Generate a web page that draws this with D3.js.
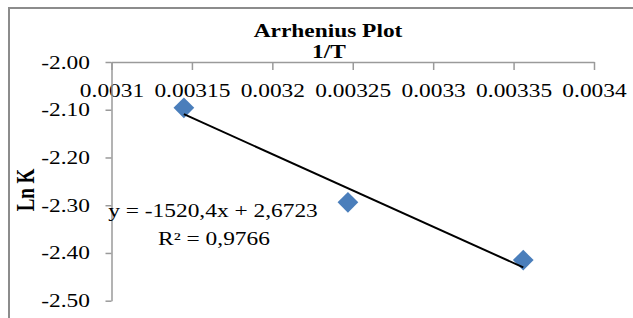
<!DOCTYPE html>
<html>
<head>
<meta charset="utf-8">
<script src="https://cdn.jsdelivr.net/npm/d3@7"></script>
<style>
  body { margin: 0; background: #fff; }
  svg { display: block; font-family: "Liberation Serif", "Times New Roman", serif; }
  .axis path, .axis line { stroke: #9a9a9a; stroke-width: 1.5; }
  .axis text { fill: #000; font-size: 18px; font-family: "Liberation Serif", "Times New Roman", serif; }
</style>
</head>
<body>
<svg width="633" height="318"></svg>
<script>
// 1/T values and ln k
var invT = [0.003145, 0.003247, 0.003356];
var lnK = [-2.096, -2.294, -2.415];

// linear trendline as printed on the chart
var slope = -1520.4;
var intercept = 2.6723;
var eqLines = ['y = -1520,4x + 2,6723', 'R\u00B2 = 0,9766'];

var xTicks = [0.0031, 0.00315, 0.0032, 0.00325, 0.0033, 0.00335, 0.0034];
var xTickLabels = ['0.0031', '0.00315', '0.0032', '0.00325', '0.0033', '0.00335', '0.0034'];
var yTicks = [-2.0, -2.1, -2.2, -2.3, -2.4, -2.5];
var yTickLabels = ['-2.00', '-2.10', '-2.20', '-2.30', '-2.40', '-2.50'];

var stretch = 'scale(1.3,1)';

var svg = d3.select('svg');

// chart frame
svg.append('rect')
  .attr('x', 9)
  .attr('y', 8)
  .attr('width', 700)
  .attr('height', 400)
  .attr('fill', 'none')
  .attr('stroke', '#8c8c8c')
  .attr('stroke-width', 2);

var xScale = d3.scaleLinear()
  .domain([0.0031, 0.0034])
  .range([111.5, 594]);

var yScale = d3.scaleLinear()
  .domain([-2.0, -2.5])
  .range([62, 300.7]);

// x axis sits on top (at y = -2.00), labels below it
var xAxis = svg.append('g')
  .attr('class', 'axis')
  .attr('transform', `translate(0, ${yScale(-2.0)})`)
  .call(d3.axisBottom(xScale)
    .tickValues(xTicks)
    .tickFormat((d, i) => xTickLabels[i])
    .tickSize(8)
    .tickSizeOuter(0))
  .attr('font-family', null)
  .attr('font-size', null);

xAxis.selectAll('text')
  .attr('y', 0)
  .attr('dy', 0)
  .attr('transform', `translate(0, 34.5) ${stretch}`);

var yAxis = svg.append('g')
  .attr('class', 'axis')
  .attr('transform', `translate(${xScale(0.0031)}, 0)`)
  .call(d3.axisLeft(yScale)
    .tickValues(yTicks)
    .tickFormat((d, i) => yTickLabels[i])
    .tickSize(6)
    .tickSizeOuter(0))
  .attr('font-family', null)
  .attr('font-size', null);

yAxis.selectAll('text')
  .attr('x', 0)
  .attr('dy', 0)
  .attr('transform', `translate(-21.5, 6) ${stretch}`);

// data points
var points = invT.map((x, i) => ({ x: x, y: lnK[i] }));

svg.selectAll('.pt')
  .data(points)
  .enter()
  .append('path')
  .attr('class', 'pt')
  .attr('d', d3.symbol().type(d3.symbolSquare).size(215))
  .attr('fill', '#4a7ebb')
  .attr('transform', (d) => `translate(${xScale(d.x)}, ${yScale(d.y)}) rotate(45)`);

// trendline
var xMin = d3.min(invT);
var xMax = d3.max(invT);
svg.append('line')
  .attr('x1', xScale(xMin))
  .attr('y1', yScale(slope * xMin + intercept))
  .attr('x2', xScale(xMax))
  .attr('y2', yScale(slope * xMax + intercept))
  .attr('stroke', '#000')
  .attr('stroke-width', 2);

// equation label
svg.selectAll('.eq')
  .data(eqLines)
  .enter()
  .append('text')
  .attr('class', 'eq')
  .attr('text-anchor', 'middle')
  .attr('font-size', 18)
  .attr('transform', (d, i) => `translate(${213 + i}, ${217 + i * 28}) ${stretch}`)
  .text((d) => d);

// titles
svg.append('text')
  .attr('text-anchor', 'middle')
  .attr('font-size', 18)
  .attr('font-weight', 'bold')
  .attr('transform', `translate(328, 37) ${stretch}`)
  .text('Arrhenius Plot');

svg.append('text')
  .attr('text-anchor', 'middle')
  .attr('font-size', 18)
  .attr('font-weight', 'bold')
  .attr('transform', `translate(329, 58) ${stretch}`)
  .text('1/T');

svg.append('text')
  .attr('text-anchor', 'middle')
  .attr('font-size', 19)
  .attr('font-weight', 'bold')
  .attr('transform', `translate(34, 190) ${stretch} rotate(-90)`)
  .text('Ln K');
</script>
</body>
</html>
